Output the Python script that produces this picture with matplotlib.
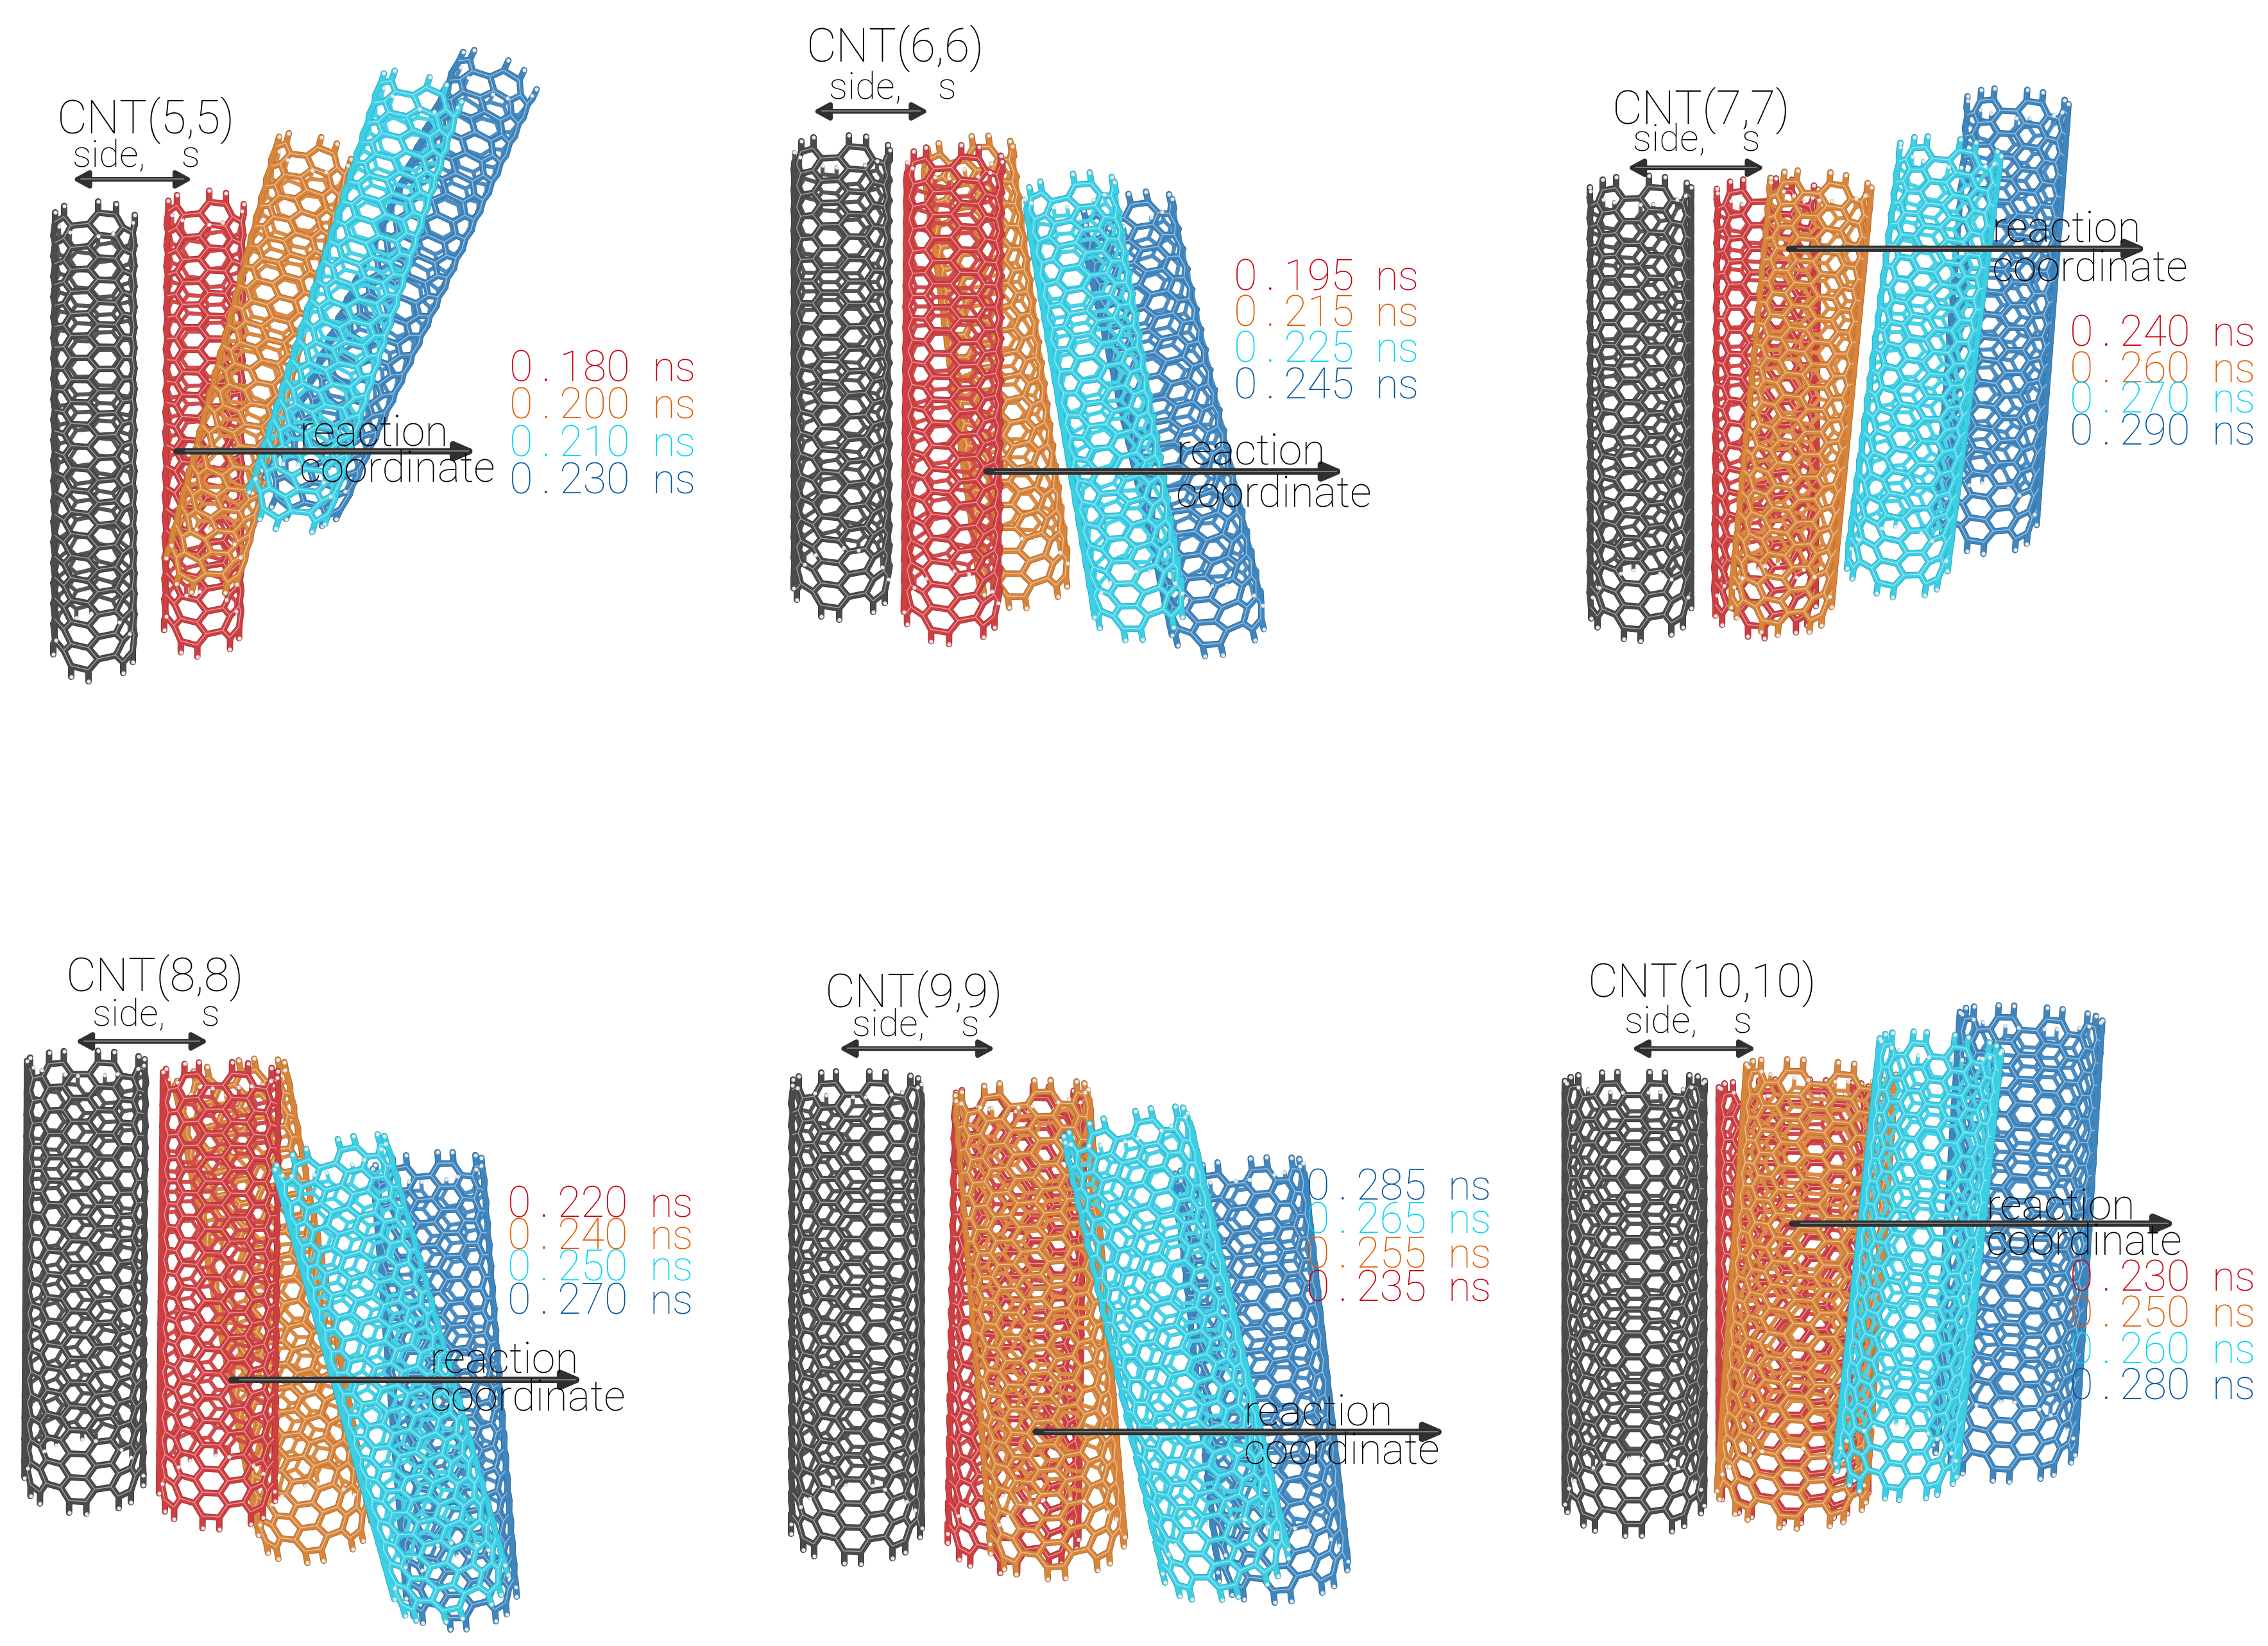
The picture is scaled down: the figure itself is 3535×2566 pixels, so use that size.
#!/usr/bin/env python3
# -*- coding: utf-8 -*-
"""CNT snapshots: six panels of nanotubes drawn from projected honeycomb lattices"""

import numpy as np
import matplotlib
matplotlib.use('Agg')
import matplotlib.pyplot as plt
from matplotlib.collections import LineCollection
from matplotlib.colors import to_rgb
from matplotlib.patches import FancyArrowPatch

plt.rcParams['font.family'] = ['Roboto', 'DejaVu Sans']

# data
PANEL_TITLES = ['CNT(5,5)', 'CNT(6,6)', 'CNT(7,7)', 'CNT(8,8)', 'CNT(9,9)', 'CNT(10,10)']
CHIRAL_N = [5, 6, 7, 8, 9, 10]
TIMES_55 = [0.180, 0.200, 0.210, 0.230]
TIMES_66 = [0.195, 0.215, 0.225, 0.245]
TIMES_77 = [0.240, 0.260, 0.270, 0.290]
TIMES_88 = [0.220, 0.240, 0.250, 0.270]
TIMES_99 = [0.285, 0.265, 0.255, 0.235]
TIMES_1010 = [0.230, 0.250, 0.260, 0.280]
TIME_COLOR_KEYS_99 = ['blue', 'cyan', 'orange', 'red']
TIME_COLOR_KEYS = ['red', 'orange', 'cyan', 'blue']

# colours
TUBE_COLORS = {'gray': '#4b4b4d', 'red': '#cf3f42', 'orange': '#d8843a',
               'cyan': '#3bcfe6', 'blue': '#3f86bf'}
TEXT_COLORS = {'red': '#c80010', 'orange': '#e05a00', 'cyan': '#00d4f4', 'blue': '#0055a0'}

# layout, in pixels of a 1568 wide view: colour, top x, top y, bottom x, bottom y, width
LAYOUT = [
    dict(tubes=[('gray', 65, 137, 65, 462, 58), ('red', 142, 130, 140, 445, 55),
                ('orange', 220, 92, 138, 402, 55), ('blue', 350, 38, 205, 352, 60),
                ('cyan', 295, 50, 197, 358, 60)],
         title=(101, 82), side=(94, 107), dbl=(50, 133, 124),
         react=(207, 299, 324), arrow=(122, 330, 312), times=(352, 451, [254, 280, 306, 332])),
    dict(tubes=[('gray', 582, 90, 582, 418, 68), ('orange', 667, 92, 710, 410, 65),
                ('red', 660, 97, 658, 435, 68), ('blue', 775, 132, 845, 442, 68),
                ('cyan', 737, 118, 790, 432, 65)],
         title=(619, 32), side=(617, 60), dbl=(562, 642, 77),
         react=(813, 312, 341), arrow=(682, 930, 326), times=(853, 951, [191, 216, 241, 266])),
    dict(tubes=[('gray', 1134, 118, 1134, 432, 72), ('red', 1222, 120, 1220, 430, 72),
                ('orange', 1260, 115, 1230, 428, 72), ('blue', 1396, 58, 1372, 372, 72),
                ('cyan', 1350, 92, 1310, 402, 72)],
         title=(1176, 75), side=(1173, 96), dbl=(1125, 1220, 116),
         react=(1377, 158, 185), arrow=(1237, 1485, 172), times=(1431, 1529, [230, 255, 276, 298])),
    dict(tubes=[('gray', 60, 722, 58, 1034, 84), ('orange', 157, 730, 220, 1068, 80),
                ('red', 153, 730, 150, 1045, 82), ('blue', 295, 793, 320, 1115, 78),
                ('cyan', 225, 785, 315, 1108, 82)],
         title=(107, 675), side=(108, 701), dbl=(52, 144, 720),
         react=(297, 940, 966), arrow=(160, 404, 954), times=(351, 449, [832, 854, 876, 899])),
    dict(tubes=[('gray', 592, 735, 592, 1068, 92), ('red', 705, 745, 700, 1075, 92),
                ('orange', 705, 742, 732, 1078, 95), ('blue', 855, 797, 888, 1094, 92),
                ('cyan', 775, 765, 850, 1092, 90)],
         title=(632, 686), side=(633, 708), dbl=(580, 688, 725),
         react=(860, 976, 1003), arrow=(716, 1000, 990), times=(903, 1001, [820, 843, 867, 890])),
    dict(tubes=[('gray', 1130, 735, 1130, 1048, 98), ('red', 1240, 740, 1240, 1038, 105),
                ('orange', 1260, 727, 1238, 1042, 105), ('blue', 1405, 690, 1385, 1010, 100),
                ('cyan', 1343, 710, 1310, 1024, 86)],
         title=(1177, 679), side=(1167, 706), dbl=(1128, 1214, 725),
         react=(1373, 834, 858), arrow=(1239, 1505, 846), times=(1431, 1529, [883, 908, 933, 958])),
]

PERSPECTIVE = 0.12
TILT = 0.2
PHASE = 0.3
TEXT_DROP = 1.5


def mix(color, other, amount):
    c = np.array(to_rgb(color))
    o = np.array(to_rgb(other))
    return tuple(c * (1 - amount) + o * amount)


def lattice(n, rows):
    """bonds and end stubs of an armchair (n,n) tube in unrolled coordinates"""
    period = 3.0 * n
    atoms = {}
    bonds = {}

    def key(u, v):
        return (round(round(u % period, 3) % period, 3), round(v, 3))

    for i in range(2 * n):
        for j in range(rows):
            cu = 1.5 * i
            cv = (j + (i % 2) / 2) * np.sqrt(3)
            pts = [(cu + np.cos(k * np.pi / 3), cv + np.sin(k * np.pi / 3)) for k in range(6)]
            for k in range(6):
                p, q = pts[k], pts[(k + 1) % 6]
                kp, kq = key(*p), key(*q)
                atoms[kp] = p
                atoms[kq] = q
                bonds[tuple(sorted([kp, kq]))] = (p, q)

    degree = {k: 0 for k in atoms}
    for kp, kq in bonds:
        degree[kp] += 1
        degree[kq] += 1

    segs = np.array(list(bonds.values()))
    mid = (segs[:, :, 1].min() + segs[:, :, 1].max()) / 2
    stubs = []
    for k, p in atoms.items():
        if degree[k] == 2:
            step = -0.85 if p[1] < mid else 0.85
            stubs.append((p, (p[0], p[1] + step)))
    return segs, np.array(stubs), period


def project(points, period, tube, vrange):
    """unrolled lattice points to the picture, returns x, y and depth"""
    _, x0, y0, x1, y1, width = tube
    length = np.hypot(x1 - x0, y1 - y0)
    ax_x, ax_y = (x1 - x0) / length, (y1 - y0) / length
    phi = points[..., 0] * 2 * np.pi / period + PHASE
    depth = np.cos(phi)
    scale = 1 + PERSPECTIVE * depth
    across = np.sin(phi) * scale * (width / 2 - 1)
    vmin, vmax = vrange
    along = ((points[..., 1] - vmin) / (vmax - vmin) - 0.5) * length * 0.87 * scale
    along = along + TILT * width / 2 * depth
    cx, cy = (x0 + x1) / 2, (y0 + y1) / 2
    px = cx + along * ax_x + across * ax_y
    py = cy + along * ax_y - across * ax_x
    return np.stack([px, py], axis=-1), depth


def draw_tube(ax, tube, n, z):
    color = TUBE_COLORS[tube[0]]
    length = np.hypot(tube[3] - tube[1], tube[4] - tube[2])
    rows = int(round(length / (15 + 0.27 * n)))
    segs, stubs, period = lattice(n, rows)
    vrange = (segs[:, :, 1].min(), segs[:, :, 1].max())
    xy, depth = project(segs, period, tube, vrange)
    sxy, sdepth = project(stubs, period, tube, vrange)
    front = depth.mean(axis=1) > 0
    sfront = sdepth.mean(axis=1) > 0

    # back wall first, thinner, then the front wall with edge and highlight
    back_lines = list(xy[~front]) + list(sxy[~sfront])
    front_lines = list(xy[front]) + list(sxy[sfront])
    ax.add_collection(LineCollection(back_lines, colors=[mix(color, 'white', 0.06)],
                                     linewidths=2.3, capstyle='round', zorder=z))
    ax.add_collection(LineCollection(front_lines, colors=[mix(color, 'black', 0.18)],
                                     linewidths=3.6, capstyle='round', zorder=z + 0.1))
    ax.add_collection(LineCollection(front_lines, colors=[color],
                                     linewidths=2.9, capstyle='round', zorder=z + 0.2))
    strong = depth.mean(axis=1) > 0.3
    ax.add_collection(LineCollection(list(xy[strong] + np.array([-0.3, -0.3])), colors=[mix(color, 'white', 0.5)],
                                     linewidths=0.5, zorder=z + 0.3))
    ax.scatter(sxy[:, 1, 0], sxy[:, 1, 1], s=5, color='#e8e8e8', linewidths=0, zorder=z + 0.35)


def draw_arrow(ax, x0, x1, y, style, lw):
    ax.add_patch(FancyArrowPatch((x0, y), (x1, y), arrowstyle=style, mutation_scale=13,
                                 color='#303030', linewidth=lw, shrinkA=0, shrinkB=0, zorder=50))
    ax.plot([x0 + 6, x1 - 6], [y - 0.2, y - 0.2], color='#8a8a8a', lw=0.6, zorder=51)


fig = plt.figure(figsize=(3535 / 200, 2566 / 200), dpi=200)
ax = fig.add_axes([0, 0, 1, 1])
ax.set_xlim(0, 1568)
ax.set_ylim(1138, 0)
ax.axis('off')

all_times = [TIMES_55, TIMES_66, TIMES_77, TIMES_88, TIMES_99, TIMES_1010]

for p, panel in enumerate(LAYOUT):
    for t, tube in enumerate(panel['tubes']):
        draw_tube(ax, tube, CHIRAL_N[p], 2 + t)

    ax.text(panel['title'][0], panel['title'][1] + TEXT_DROP, PANEL_TITLES[p], ha='center', va='center',
            fontsize=26, color='black', weight='light', zorder=60)
    ax.text(panel['side'][0], panel['side'][1] + TEXT_DROP, 'side,    s', ha='center', va='center',
            fontsize=21, color='black', weight='light', zorder=60)
    x0, x1, y = panel['dbl']
    draw_arrow(ax, x0, x1, y, '<|-|>,head_length=0.55,head_width=0.3', 2.6)
    x0, x1, y = panel['arrow']
    draw_arrow(ax, x0, x1, y, '-|>,head_length=0.7,head_width=0.3', 3.6)

    rx, ry1, ry2 = panel['react']
    ax.text(rx, ry1 + TEXT_DROP, 'reaction', ha='left', va='center', fontsize=24, weight='light', zorder=60)
    ax.text(rx, ry2 + TEXT_DROP, 'coordinate', ha='left', va='center', fontsize=24, weight='light', zorder=60)

    tx, nx, ys = panel['times']
    keys = TIME_COLOR_KEYS_99 if p == 4 else TIME_COLOR_KEYS
    for value, yy, k in zip(all_times[p], ys, keys):
        label = f'{value:.3f}'.replace('.', '\u2009.\u2009')
        ax.text(tx, yy + TEXT_DROP, label, ha='left', va='center', fontsize=24, color=TEXT_COLORS[k],
                weight='light', zorder=60)
        ax.text(nx, yy + TEXT_DROP, 'ns', ha='left', va='center', fontsize=23.5, color=TEXT_COLORS[k],
                weight='light', zorder=60)

fig.savefig('out.png', dpi=200, facecolor='white')
